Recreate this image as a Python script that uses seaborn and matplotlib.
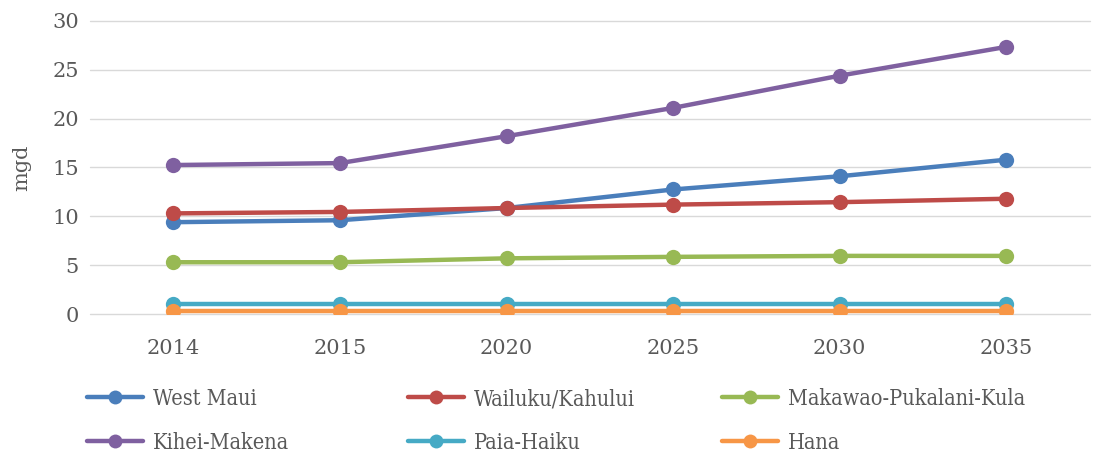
import matplotlib
matplotlib.use("Agg")
import matplotlib.pyplot as plt
import seaborn as sns
import pandas as pd

years = ["2014", "2015", "2020", "2025", "2030", "2035"]
west_maui = [9.4, 9.6, 10.85, 12.75, 14.1, 15.8]
wailuku_kahului = [10.3, 10.45, 10.85, 11.2, 11.45, 11.8]
makawao_pukalani_kula = [5.3, 5.3, 5.7, 5.85, 5.95, 5.95]
kihei_makena = [15.25, 15.45, 18.2, 21.1, 24.4, 27.35]
paia_haiku = [1.0, 1.0, 1.0, 1.0, 1.0, 1.0]
hana = [0.35, 0.35, 0.35, 0.35, 0.35, 0.35]

series = {
    "West Maui": west_maui,
    "Wailuku/Kahului": wailuku_kahului,
    "Makawao-Pukalani-Kula": makawao_pukalani_kula,
    "Kihei-Makena": kihei_makena,
    "Paia-Haiku": paia_haiku,
    "Hana": hana,
}
colors = ["#4A7EBB", "#BE4B48", "#98B954", "#7F60A0", "#46AAC5", "#F79646"]

rows = []
for name, vals in series.items():
    for y, v in zip(years, vals):
        rows.append({"year": y, "mgd": v, "district": name})
df = pd.DataFrame(rows)

sns.set_theme(style="white")
plt.rcParams["font.family"] = ["DejaVu Serif"]
text_color = "#595959"

fig = plt.figure(figsize=(11.04, 4.58), dpi=100)
ax = fig.add_axes([0.0815, 0.3144, 0.9055, 0.6398])

sns.lineplot(data=df, x="year", y="mgd", hue="district", palette=colors,
             hue_order=list(series.keys()), sort=False, marker="o",
             markersize=11, markeredgewidth=0, linewidth=3.2, ax=ax,
             legend=True)

ax.set_xlim(-0.5, len(years) - 0.5)
ax.set_ylim(0, 30)
ax.set_yticks(range(0, 31, 5))
ax.grid(axis="y", color="#D9D9D9", linewidth=1)
for gl in ax.get_ygridlines():
    gl.set_clip_on(False)
ax.set_axisbelow(True)
for s in ax.spines.values():
    s.set_visible(False)
ax.tick_params(axis="both", length=0, labelsize=15, colors=text_color, pad=8)
ax.tick_params(axis="x", pad=18)
ax.set_xlabel("")
ax.set_ylabel("mgd", fontsize=15, color=text_color, labelpad=15)

handles, labels = ax.get_legend_handles_labels()
ax.get_legend().remove()

# three legend columns at fixed horizontal positions, two entries each
legend_font = {"family": "DejaVu Serif", "stretch": "condensed", "size": 15.5}
column_x = [87, 408, 722]
for col, x_px in enumerate(column_x):
    idx = [col, col + 3]
    leg = fig.legend([handles[i] for i in idx], [labels[i] for i in idx],
                     loc="upper left", bbox_to_anchor=(x_px / 1104, 1 - 388 / 458),
                     frameon=False, handlelength=2.6, handletextpad=0.45,
                     labelspacing=1.0, borderpad=0, borderaxespad=0,
                     prop=legend_font)
    for t in leg.get_texts():
        t.set_color(text_color)
    for h in leg.legend_handles:
        h.set_linewidth(3.2)
        h.set_markersize(10)

fig.savefig("out.png", dpi=100)
